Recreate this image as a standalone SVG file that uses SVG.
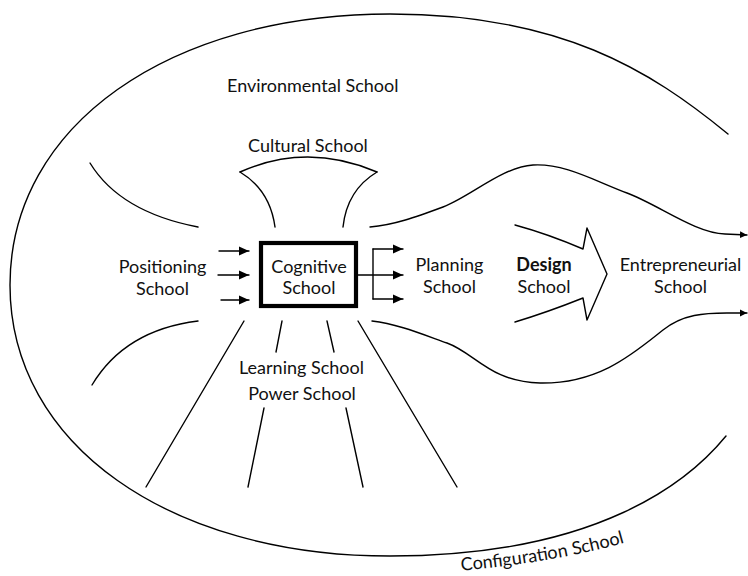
<svg xmlns="http://www.w3.org/2000/svg" width="748" height="576" viewBox="0 0 748 576">
<style>
  .ln { fill: none; stroke: #000; stroke-width: 1.4; stroke-linecap: round; stroke-linejoin: round; }
  .lbl { font-family: Lato, "Open Sans", "Liberation Sans", sans-serif; font-size: 18px; fill: #111; }
  .mid { text-anchor: middle; }
  .bold { font-weight: 700; }
</style>
<defs>
  <marker id="ah" markerUnits="userSpaceOnUse" markerWidth="11" markerHeight="11" refX="10" refY="5" orient="auto">
    <path d="M0,0.5 L10,5 L0,9.5 z" fill="#000"/>
  </marker>
  <marker id="ahs" markerUnits="userSpaceOnUse" markerWidth="8" markerHeight="8" refX="7" refY="4" orient="auto">
    <path d="M0,0.5 L7,4 L0,7.5 z" fill="#000"/>
  </marker>
</defs>
<rect width="748" height="576" fill="#fff"/>

<g id="boundaries">
  <!-- outer Environmental / Configuration boundary -->
  <path class="ln" d="M728,134 C650,70 560,14 390,14 C170,14 10,125 10,285 C10,445 170,556 390,556 C600,556 690,480 726,436"/>
  <!-- Cultural School funnel -->
  <path class="ln" d="M240,172 Q307,142 377,172"/>
  <path class="ln" d="M240,172 Q270,190 275,227"/>
  <path class="ln" d="M377,172 Q347,190 343,227"/>
  <!-- left curves -->
  <path class="ln" d="M90,163 Q120,212 198,227"/>
  <path class="ln" d="M92,385 Q125,330 198,321"/>
  <!-- bottom radial lines -->
  <path class="ln" d="M244,321 L146,487"/>
  <path class="ln" d="M282,321 L276,352"/>
  <path class="ln" d="M327,321 L334,352"/>
  <path class="ln" d="M358,321 L457,487"/>
  <path class="ln" d="M264,408 L248,487"/>
  <path class="ln" d="M346,408 L363,487"/>
  <!-- Design School open arrow -->
  <path class="ln" d="M515,225 Q548,234 583,249 L587,228 L607,274 L587,320 L583,298 Q548,312 515,322"/>
</g>

<g id="connectors">
  <!-- Positioning -> Cognitive -->
  <path class="ln" d="M219,251 L249,251" marker-end="url(#ah)"/>
  <path class="ln" d="M218,275 L249,275" marker-end="url(#ah)"/>
  <path class="ln" d="M221,300 L249,300" marker-end="url(#ah)"/>
  <!-- Cognitive -> Planning -->
  <path class="ln" d="M358,275 L403,275" marker-end="url(#ah)"/>
  <path class="ln" d="M373,249 L373,299"/>
  <path class="ln" d="M373,299 L403,299" marker-end="url(#ah)"/>
  <path class="ln" d="M373,249 L403,249" marker-end="url(#ah)"/>
  <!-- upper funnel to Entrepreneurial -->
  <path class="ln" d="M370,227 C394,225 416,217 443,207 C470,197 502,167 533,165 C564,163 595,181 627,193 C659,205 695,233 725,234 L747,235" marker-end="url(#ahs)"/>
  <!-- lower funnel to Entrepreneurial -->
  <path class="ln" d="M372,321 C397,324 419,333 447,343 C475,353 490,382 540,383 C600,384 635,352 663,330 C683,314 705,313 727,313 L747,313" marker-end="url(#ahs)"/>
</g>

<g id="environmental">
  <text class="lbl" x="227" y="92">Environmental School</text>
</g>
<g id="cultural">
  <text class="lbl" x="248" y="152">Cultural School</text>
</g>
<g id="positioning">
  <text class="lbl mid" x="162.5" y="273">Positioning</text>
  <text class="lbl mid" x="162.5" y="295">School</text>
</g>
<g id="cognitive">
  <rect x="261" y="243" width="95" height="63" fill="none" stroke="#000" stroke-width="4.2"/>
  <text class="lbl mid" x="309" y="273">Cognitive</text>
  <text class="lbl mid" x="309" y="294">School</text>
</g>
<g id="planning">
  <text class="lbl mid" x="449.5" y="271">Planning</text>
  <text class="lbl mid" x="449.5" y="293">School</text>
</g>
<g id="design">
  <text class="lbl mid bold" x="544" y="271">Design</text>
  <text class="lbl mid" x="544" y="293">School</text>
</g>
<g id="entrepreneurial">
  <text class="lbl mid" x="680.5" y="271">Entrepreneurial</text>
  <text class="lbl mid" x="680.5" y="293">School</text>
</g>
<g id="learning-power">
  <text class="lbl mid" x="301.5" y="374">Learning School</text>
  <text class="lbl mid" x="302" y="400">Power School</text>
</g>
<g id="configuration">
  <path id="cfgpath" d="M458,571 Q560,562 634,540" fill="none"/>
  <text class="lbl"><textPath href="#cfgpath" startOffset="3">Configuration School</textPath></text>
</g>
</svg>
